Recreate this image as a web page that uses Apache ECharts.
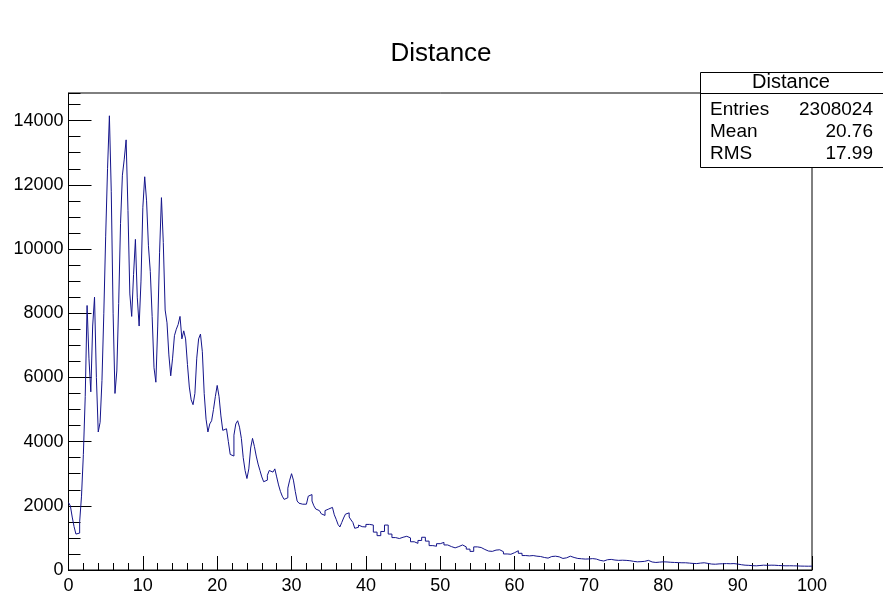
<!DOCTYPE html>
<html>
<head>
<meta charset="utf-8">
<title>Distance</title>
<script src="https://cdn.jsdelivr.net/npm/echarts@6/dist/echarts.min.js"></script>
<style>
  html, body { margin: 0; padding: 0; background: #fff; }
  #chart { width: 883px; height: 595px; }
</style>
</head>
<body>
<div id="chart"></div>
<script>
// Histogram "Distance": bin contents, 0.25-wide bins from 0 to 40
const FINE_START = 0;
const FINE_WIDTH = 0.25;
const fineCounts = [
  2100, 2000, 1650, 1350,
  1120, 1150, 1500, 2300,
  3600, 5400, 8240, 6600,
  5550, 7600, 8500, 6000,
  4300, 4600, 5900, 8000,
  10400, 12500, 14150, 11800,
  8000, 5500, 6200, 8300,
  10800, 12300, 12800, 13400,
  11200, 8600, 7900, 9200,
  10300, 8500, 7600, 9000,
  11300, 12250, 11500, 10100,
  9300, 7900, 6300, 5850,
  7600, 9900, 11600, 10200,
  8100, 7700, 6700, 6050,
  6600, 7300, 7500, 7650,
  7900, 7200, 7450, 7200,
  6400, 5700, 5300, 5150,
  5500, 6600, 7200, 7350,
  6800, 5500, 4700, 4300,
  4550, 4650, 5000, 5400,
  5750, 5400, 4800, 4350,
  4400, 4450, 4000, 3600,
  3550, 4200, 4550, 4650,
  4450, 4100, 3500, 3100,
  2850, 3150, 3800, 4100,
  3850, 3550, 3300, 3100,
  2900, 2750, 2800, 2950,
  3100, 3050, 3050, 3150,
  2900, 2650, 2450, 2300,
  2200, 2250, 2550, 2800,
  3000, 2800, 2450, 2150,
  2080, 2050, 2110, 2050,
  2100, 2300, 2350, 2150,
  2000, 1900, 1850, 1830,
  1750, 1700, 1850, 1900,
  1960, 1950, 1900, 1720,
  1580, 1420, 1340, 1480,
  1620, 1740, 1780, 1650,
  1560, 1480, 1300, 1330,
  1400, 1350, 1290, 1340
];

// Tail of the distribution: 0.5-wide bins from 40 to 100
const COARSE_START = 40;
const COARSE_WIDTH = 0.5;
const coarseCounts = [
  1420, 1400, 1180, 1070, 1200, 1400, 1120, 1010, 980, 1020,
  1050, 1000, 880, 830, 920, 1020, 900, 760, 740, 820,
  860, 780, 730, 690, 730, 780, 720, 650, 580, 720,
  700, 640, 590, 580, 620, 630, 570, 500, 490, 540,
  600, 520, 450, 440, 450, 430, 420, 390, 370, 420,
  430, 410, 360, 380, 430, 390, 360, 350, 340, 345,
  355, 340, 300, 280, 320, 330, 310, 300, 305, 300,
  290, 270, 255, 260, 270, 300, 250, 235, 245, 255,
  250, 240, 235, 230, 225, 225, 215, 205, 200, 215,
  225, 205, 185, 180, 190, 195, 200, 195, 200, 185,
  165, 150, 145, 135, 130, 140, 150, 145, 150, 148,
  140, 135, 130, 132, 130, 128, 122, 120, 118, 120
];

const X_MIN = 0, X_MAX = 100;
const Y_MIN = 0, Y_MAX = 14860;
const yTickLabels = [0, 2000, 4000, 6000, 8000, 10000, 12000, 14000];

// Statistics panel content
const statsTitle = 'Distance';
const statsRows = [
  ['Entries', '2308024'],
  ['Mean', '20.76'],
  ['RMS', '17.99']
];

// Step points: one point per bin low edge, plus the closing upper edge
const points = [];
fineCounts.forEach((v, i) => points.push([FINE_START + i * FINE_WIDTH, v]));
coarseCounts.forEach((v, i) => points.push([COARSE_START + i * COARSE_WIDTH, v]));
points.push([X_MAX, coarseCounts[coarseCounts.length - 1]]);

const FONT = '"Liberation Sans", Arial, Helvetica, sans-serif';
const INK = '#000';

const chart = echarts.init(document.getElementById('chart'), null, { renderer: 'canvas' });

const overlay = [
  {
    type: 'text', z: 102,
    style: { x: 441, y: 54, text: 'Distance', font: '26px ' + FONT, fill: INK, align: 'center', verticalAlign: 'middle' }
  },
  {
    type: 'rect', z: 100,
    shape: { x: 700.5, y: 72.5, width: 190, height: 95 },
    style: { fill: '#fff', stroke: INK, lineWidth: 1 }
  },
  {
    type: 'line', z: 101,
    shape: { x1: 700.5, y1: 93.5, x2: 890, y2: 93.5 },
    style: { stroke: INK, lineWidth: 1 }
  },
  {
    type: 'text', z: 102,
    style: { x: 791, y: 82, text: statsTitle, font: '20px ' + FONT, fill: INK, align: 'center', verticalAlign: 'middle' }
  }
];
const rowY = [110, 132, 154];
statsRows.forEach((row, i) => {
  overlay.push({
    type: 'text', z: 102,
    style: { x: 710, y: rowY[i], text: row[0], font: '19px ' + FONT, fill: INK, align: 'left', verticalAlign: 'middle' }
  });
  overlay.push({
    type: 'text', z: 102,
    style: { x: 873, y: rowY[i], text: row[1], font: '19px ' + FONT, fill: INK, align: 'right', verticalAlign: 'middle' }
  });
});

chart.setOption({
  animation: false,
  backgroundColor: '#fff',
  grid: {
    left: 68.5, right: 71, top: 93, bottom: 23.5,
    show: true, borderColor: INK, borderWidth: 1, backgroundColor: 'transparent'
  },
  xAxis: {
    type: 'value', min: X_MIN, max: X_MAX, interval: 10,
    axisLine: { show: true, onZero: false, lineStyle: { color: INK, width: 1 } },
    axisTick: { show: true, inside: true, length: 14, lineStyle: { color: INK } },
    minorTick: { show: true, splitNumber: 5, length: 7, lineStyle: { color: INK } },
    splitLine: { show: false },
    axisLabel: { fontFamily: FONT, fontSize: 18, color: INK, margin: 7 }
  },
  yAxis: [
    {
      type: 'value', min: Y_MIN, max: Y_MAX, interval: 2000,
      axisLine: { show: true, lineStyle: { color: INK, width: 1 } },
      axisTick: { show: true, inside: true, length: 23, lineStyle: { color: INK } },
      splitLine: { show: false },
      axisLabel: {
        fontFamily: FONT, fontSize: 18, color: INK, margin: 5,
        showMaxLabel: false,
        formatter: v => (yTickLabels.indexOf(v) >= 0 ? String(v) : '')
      }
    },
    {
      // finer 500-step ticks drawn on the same left edge
      type: 'value', min: Y_MIN, max: Y_MAX, interval: 500, position: 'left',
      axisLine: { show: false },
      axisTick: { show: true, inside: true, length: 12, lineStyle: { color: INK } },
      splitLine: { show: false },
      axisLabel: { show: false }
    }
  ],
  series: [{
    type: 'line',
    step: 'end',
    yAxisIndex: 0,
    data: points,
    showSymbol: false,
    symbol: 'none',
    clip: true,
    lineStyle: { color: '#14148a', width: 1 },
    z: 5
  }],
  graphic: overlay
});
</script>
</body>
</html>
